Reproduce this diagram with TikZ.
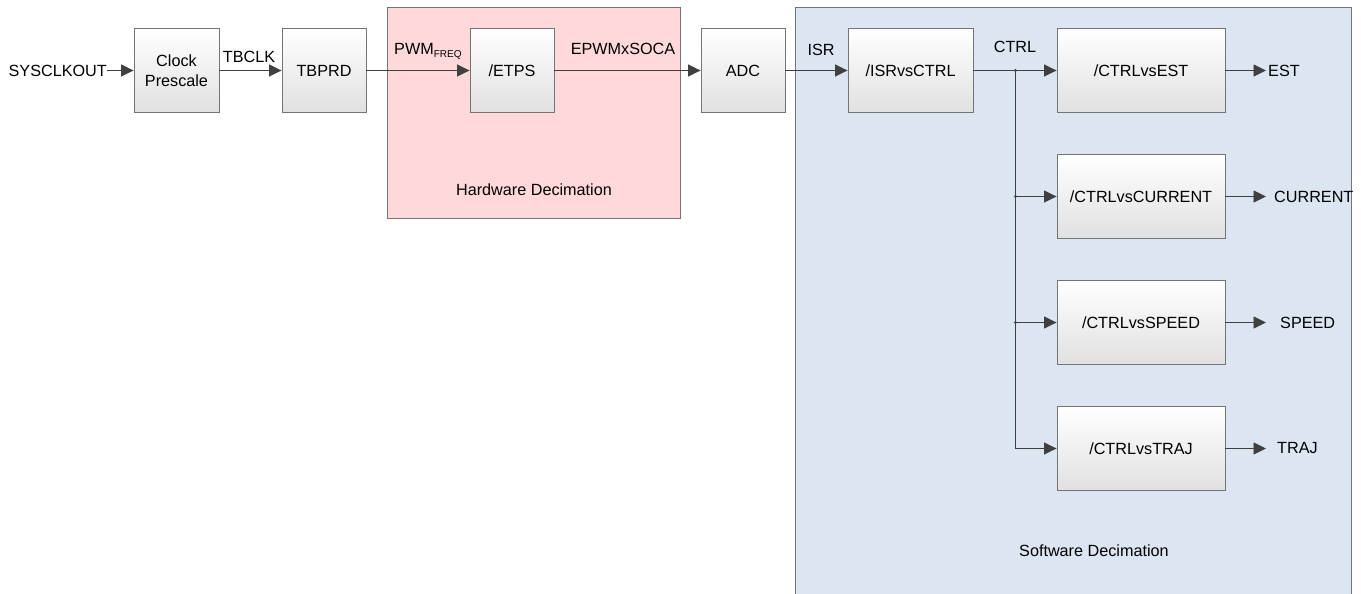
\documentclass[tikz,border=0pt]{standalone}
\usepackage{fontspec}
\setmainfont{Liberation Sans}
\usetikzlibrary{arrows.meta}
\definecolor{pinkfill}{HTML}{FFD9D9}
\definecolor{bluefill}{HTML}{DCE6F2}
\definecolor{edge}{HTML}{747474}
\definecolor{wire}{HTML}{404040}
\begin{document}
\begin{tikzpicture}[x=1pt,y=-1pt, font=\fontsize{16.2}{20}\selectfont,
  blk/.style={draw=edge, line width=0.9pt, top color=white, bottom color=black!12,
              minimum height=84pt, inner sep=0pt, align=center},
  wirearr/.style={draw=wire, line width=0.9pt, -{Triangle[length=12.5pt,width=12pt]}},
  wireline/.style={draw=wire, line width=0.9pt},
  lbl/.style={inner sep=0pt, anchor=base},
  outlbl/.style={inner sep=0pt, anchor=west},
  region/.style={draw=edge, line width=0.9pt}]
\useasboundingbox (0,0) rectangle (1361,594);
% regions
\draw[region, fill=pinkfill] (387,7) rectangle (680,218);
\draw[region, fill=bluefill] (795,7) rectangle (1351,600);
% blocks
\node[blk, minimum width=85pt] (clk) at (176.5,70.5) {Clock\\Prescale};
\node[blk, minimum width=84pt] (tbprd) at (324,70.5) {TBPRD};
\node[blk, minimum width=84pt] (etps) at (512,70.5) {/ETPS};
\node[blk, minimum width=84pt] (adc) at (743,70.5) {ADC};
\node[blk, minimum width=125pt] (isr) at (910.5,70.5) {/ISRvsCTRL};
\node[blk, minimum width=168pt] (est) at (1141,70.5) {/CTRLvsEST};
\node[blk, minimum width=168pt] (cur) at (1141,196.5) {/CTRLvsCURRENT};
\node[blk, minimum width=168pt] (spd) at (1141,322.5) {/CTRLvsSPEED};
\node[blk, minimum width=168pt] (trj) at (1141,448.5) {/CTRLvsTRAJ};
% labels
\node[inner sep=0pt, anchor=east] (sys) at (107,70.5) {SYSCLKOUT};
\node[lbl] (tbclk) at (249,62.7) {TBCLK};
\node[lbl, anchor=base west] (pwm) at (394,55) {PWM\raisebox{-2.5pt}{\fontsize{10}{10}\selectfont FREQ}};
\node[lbl] (soca) at (623,55) {EPWMxSOCA};
\node[lbl] (isrl) at (821,56) {ISR};
\node[lbl] (ctrl) at (1015,53) {CTRL};
\node[lbl] (hwd) at (534,195) {Hardware Decimation};
\node[lbl, anchor=base west] (swd) at (1019,556.7) {Software Decimation};
% outputs
\node[outlbl] (oest) at (1268,70.5) {EST};
\node[outlbl] (ocur) at (1274,196.5) {CURRENT};
\node[outlbl] (ospd) at (1280,322.5) {SPEED};
\node[outlbl] (otrj) at (1277,448.5) {TRAJ};
\coordinate (e1) at (1266,70.5);
\coordinate (e2) at (1266,196.5);
\coordinate (e3) at (1266,322.5);
\coordinate (e4) at (1266,448.5);
% junctions
\coordinate (j1) at (1015.5,70.5);
\coordinate (j2) at (1015.5,196.5);
\coordinate (j3) at (1015.5,322.5);
\coordinate (j4) at (1015.5,448.5);
% connectors
\draw[wirearr] (sys.east) -- (clk.west);
\draw[wirearr] (clk.east) -- (tbprd.west);
\draw[wirearr] (tbprd.east) -- (etps.west);
\draw[wirearr] (etps.east) -- (adc.west);
\draw[wirearr] (adc.east) -- (isr.west);
\draw[wirearr] (isr.east) -- (est.west);
\draw[wireline] (j1) -- (j4);
\draw[wirearr] (j2) -- (cur.west);
\draw[wirearr] (j3) -- (spd.west);
\draw[wirearr] (j4) -- (trj.west);
\draw[wirearr] (est.east) -- (e1);
\draw[wirearr] (cur.east) -- (e2);
\draw[wirearr] (spd.east) -- (e3);
\draw[wirearr] (trj.east) -- (e4);
\fill[wire] (j1) circle (1.6);
\fill[wire] (j2) circle (1.6);
\fill[wire] (j3) circle (1.6);
\end{tikzpicture}
\end{document}
